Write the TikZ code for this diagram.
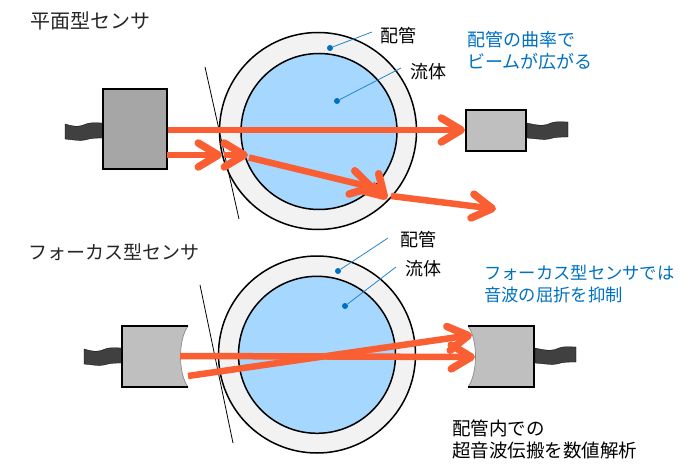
\documentclass[tikz,border=0pt]{standalone}
\usepackage{fontspec}
\setmainfont{Noto Sans CJK JP}
\usetikzlibrary{arrows.meta}
\definecolor{beam}{HTML}{F95F33}
\definecolor{pipe}{HTML}{F2F2F2}
\definecolor{fluid}{HTML}{A6D8FF}
\definecolor{note}{HTML}{0070C0}
\definecolor{cablec}{HTML}{404040}
\definecolor{sensA}{HTML}{A6A6A6}
\definecolor{sensB}{HTML}{BFBFBF}
\tikzset{
  x=1pt,y=-1pt,
  pipeshape/.style={circle,draw=black,line width=1.5pt,fill=pipe,inner sep=0pt},
  fluidshape/.style={circle,draw=black,line width=1.5pt,fill=fluid,inner sep=0pt},
  sensor/.style={draw=black,line width=2pt,inner sep=0pt},
  ray/.style={draw=beam,line width=6.5pt},
  rayhead/.style={ray,-{Straight Barb[length=20pt,width=24pt,line width=7.5pt,line cap=round,round]}},
  tangent/.style={draw=black,line width=0.8pt},
  leader/.style={draw=note!85!white,line width=0.8pt},
  dot/.style={circle,fill=note,inner sep=0pt,minimum size=6pt},
  cablest/.style={fill=cablec,draw=black,line width=0.3pt},
  lab/.style={anchor=west,inner sep=0pt,font=\fontsize{18}{22}\selectfont,text=black},
  notelab/.style={anchor=west,inner sep=0pt,font=\fontsize{18}{22}\selectfont,text=note,align=left},
  title/.style={anchor=west,inner sep=0pt,font=\fontsize{20}{24}\selectfont,text=black!85}
}
\newcommand{\cableR}[2]{% starts at left x, centre y
  \fill[cablest] (#1,#2-7) .. controls (#1+13,#2-4) and (#1+18,#2-4) .. (#1+24,#2-7)
    .. controls (#1+29,#2-9) and (#1+35,#2-8) .. (#1+41,#2-8) -- (#1+41,#2+7)
    .. controls (#1+33,#2+7) and (#1+28,#2+7) .. (#1+22,#2+9)
    .. controls (#1+16,#2+10) and (#1+12,#2+9) .. (#1,#2+8) -- cycle;}
\newcommand{\cableL}[2]{% ends at right x, centre y; mirrored
  \fill[cablest] (#1,#2-8) .. controls (#1-6,#2-8) and (#1-12,#2-9) .. (#1-17,#2-7)
    .. controls (#1-23,#2-4) and (#1-28,#2-4) .. (#1-38,#2-7) -- (#1-38,#2+8)
    .. controls (#1-28,#2+9) and (#1-24,#2+10) .. (#1-18,#2+9)
    .. controls (#1-12,#2+7) and (#1-6,#2+7) .. (#1,#2+7) -- cycle;}
\begin{document}
\begin{tikzpicture}
\useasboundingbox (0,0) rectangle (700,470);
% ---- top
\node[title] (t1) at (30,21) {平面型センサ};
\node[pipeshape,minimum size=197pt] (po1) at (318,131) {};
\node[fluidshape,minimum size=156pt] (fl1) at (319,131.5) {};
\coordinate (ta1) at (205,67); \coordinate (tb1) at (239,219);
\draw[tangent] (ta1) -- (tb1);
\cableL{103}{131}
\node[sensor,fill=sensA,minimum width=64pt,minimum height=80pt] (s1) at (135,129) {};
\cableR{527}{130}
\node[sensor,fill=sensB,minimum width=60pt,minimum height=41pt] (r1) at (496,130.5) {};
\coordinate (a0) at (167,155); \coordinate (a1) at (222,155);
\coordinate (a2) at (224,155); \coordinate (a3) at (248,155);
\coordinate (a4) at (249,157.5); \coordinate (a5) at (375,188);
\coordinate (a6) at (372,184); \coordinate (a7) at (387,199);
\coordinate (a8) at (391,196); \coordinate (a9) at (496,209);
\draw[rayhead] (s1.east |- 0,130) -- (r1.west |- 0,130);
\draw[rayhead] (a0) -- (a1);
\draw[rayhead] (a2) -- (a3);
\draw[rayhead] (a4) -- (a5);
\draw[rayhead] (a6) -- (a7);
\draw[rayhead] (a8) -- (a9);
\node[dot] (d1) at (330,48) {}; \coordinate (e1) at (372,32);
\draw[leader] (d1) -- (e1);
\node[dot] (d2) at (337,101) {}; \coordinate (e2) at (401,68);
\draw[leader] (d2) -- (e2);
\node[lab] (l1) at (380,36) {配管};
\node[lab] (l2) at (410,72) {流体};
\node[notelab] (n1) at (467,51) {配管の曲率で\\ビームが広がる};
% ---- bottom
\node[title,font=\fontsize{19}{24}\selectfont] (t2) at (28,252) {フォーカス型センサ};
\node[pipeshape,minimum size=197pt] (po2) at (317,354.5) {};
\node[fluidshape,minimum size=157pt] (fl2) at (317,354.8) {};
\coordinate (ta2) at (200,285); \coordinate (tb2) at (233,443);
\draw[tangent] (ta2) -- (tb2);
\cableL{122}{356}
\fill[sensB] (188,326) -- (122,326) -- (122,387) -- (188,387)
   .. controls (178,373) and (178,340) .. (188,326) -- cycle;
\draw[line width=0.7pt,draw=black!45] (188,387) .. controls (178,373) and (178,340) .. (188,326);
\draw[sensor] (188,326) -- (122,326) -- (122,387) -- (188,387);
\cableR{535}{355}
\fill[sensB] (468,326) -- (534,326) -- (534,387) -- (468,387)
   .. controls (478,373) and (478,340) .. (468,326) -- cycle;
\draw[line width=0.7pt,draw=black!45] (468,387) .. controls (478,373) and (478,340) .. (468,326);
\draw[sensor] (468,326) -- (534,326) -- (534,387) -- (468,387);
\coordinate (b0) at (180,356); \coordinate (b1) at (475,357);
\coordinate (b2) at (188,376); \coordinate (b3) at (472,335);
\draw[rayhead] (b0) -- (b1);
\draw[rayhead] (b2) -- (b3);
\node[dot] (d3) at (338,271) {}; \coordinate (e3) at (388,238);
\draw[leader] (d3) -- (e3);
\node[dot] (d4) at (345,306) {}; \coordinate (e4) at (396,267);
\draw[leader] (d4) -- (e4);
\node[lab] (l3) at (400,240) {配管};
\node[lab] (l4) at (405,269) {流体};
\node[notelab,font=\fontsize{17.3}{22}\selectfont] (n2) at (484,284) {フォーカス型センサでは\\音波の屈折を抑制};
\node[lab,align=left,font=\fontsize{18.5}{22}\selectfont] (n3) at (452,439) {配管内での\\超音波伝搬を数値解析};
\end{tikzpicture}
\end{document}
